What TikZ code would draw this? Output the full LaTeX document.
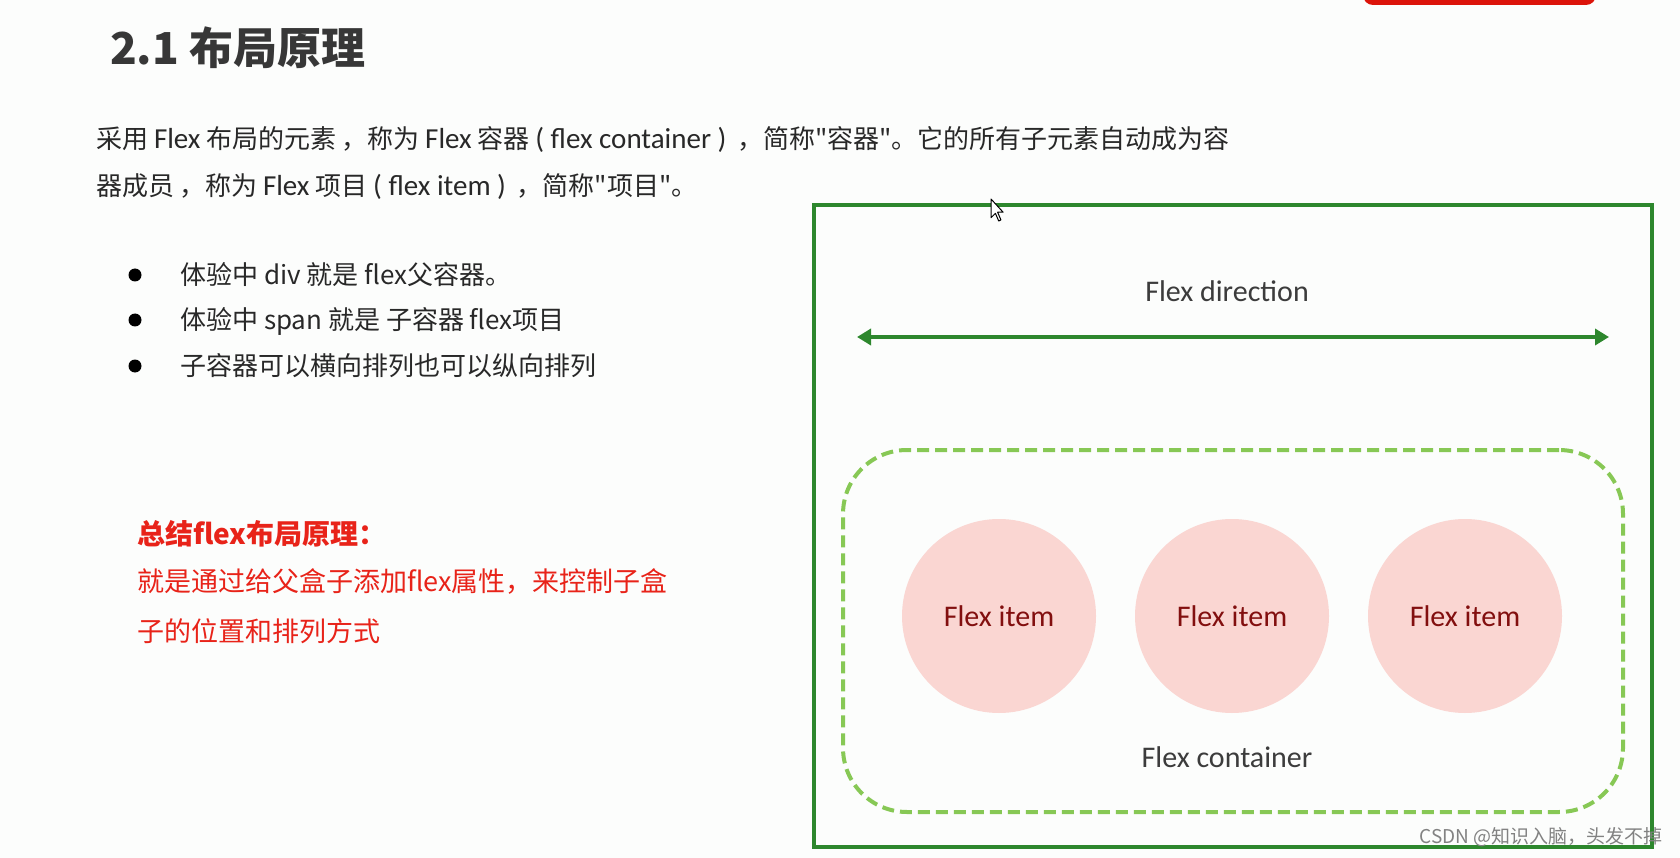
\documentclass[tikz,border=0pt]{standalone}
\usepackage{fontspec}
\setmainfont{Carlito}
\newfontfamily\cjk{Noto Sans CJK SC}
\newfontfamily\latf{Carlito}
\newcommand\lat[1]{{\latf\fontsize{29}{33}\selectfont #1}}
\newcommand\cm{\kern5pt，}
\usetikzlibrary{arrows.meta}
\definecolor{boxgreen}{RGB}{45,135,45}
\definecolor{dashgreen}{RGB}{135,200,85}
\definecolor{itemfill}{RGB}{250,214,210}
\definecolor{itemtext}{RGB}{130,15,15}
\definecolor{sumred}{RGB}{232,35,25}
\definecolor{txt}{RGB}{40,40,40}
\definecolor{lbltxt}{RGB}{60,60,60}
\definecolor{titlegray}{RGB}{55,55,55}
\definecolor{bg}{RGB}{252,253,252}
\definecolor{pill}{RGB}{220,20,10}
\definecolor{wmgray}{RGB}{130,130,130}
\tikzset{
  body/.style={anchor=west, text=txt, inner sep=0, font=\cjk\fontsize{26}{30}\selectfont},
  sumtext/.style={anchor=west, text=sumred, inner sep=0, font=\cjk\fontsize{27}{31}\selectfont},
  dot/.style={circle, fill=black, inner sep=0, minimum size=13},
  item/.style={circle, fill=itemfill, inner sep=0, minimum size=194, text=itemtext, font=\latf\fontsize{30}{34}\selectfont},
  lbl/.style={text=lbltxt, inner sep=0, font=\latf\fontsize{30}{34}\selectfont}
}
\begin{document}
\begin{tikzpicture}[x=1pt,y=-1pt]
\fill[bg] (0,0) rectangle (1680,858);
\useasboundingbox (0,0) rectangle (1680,858);
% top red tab
\fill[pill, rounded corners=10pt] (1363,-20) rectangle (1596,5);
% title
\node[anchor=west, text=titlegray, inner sep=0, font=\cjk\bfseries\fontsize{44}{50}\selectfont] (title) at (110,48) {2.1 布局原理};
% paragraph
\node[body] (p1) at (96,140) {采用 \lat{Flex} 布局的元素\cm 称为 \lat{Flex} 容器 \lat{( flex container )} \cm 简称"容器"。它的所有子元素自动成为容};
\node[body] (p2) at (96,187) {器成员\cm 称为 \lat{Flex} 项目 \lat{( flex item )} \cm 简称"项目"。};
% bullets
\node[dot] (d1) at (135,275) {};
\node[body] (b1) at (180,275) {体验中 div 就是 flex父容器。};
\node[dot] (d2) at (135,320) {};
\node[body] (b2) at (180,321) {体验中 span 就是 子容器 flex项目};
\node[dot] (d3) at (135,366) {};
\node[body] (b3) at (180,366) {子容器可以横向排列也可以纵向排列};
% summary
\node[sumtext, font=\cjk\bfseries\fontsize{28}{32}\selectfont] (s0) at (137,534) {总结flex布局原理：};
\node[sumtext] (s1) at (137,582) {就是通过给父盒子添加flex属性，来控制子盒};
\node[sumtext] (s2) at (137,631) {子的位置和排列方式};
% outer container
\node[draw=boxgreen, line width=4, minimum width=838, minimum height=642, inner sep=0] (outer) at (1233,526) {};
\node[lbl] (dir) at (1227,291) {Flex direction};
\coordinate (al) at (857,337);
\coordinate (ar) at (1609,337);
\draw[boxgreen, line width=4, {Triangle[length=14,width=16]}-{Triangle[length=14,width=16]}] (al) -- (ar);
% dashed flex container
\node[draw=dashgreen, line width=4, dash pattern=on 12pt off 6pt, rounded corners=64pt, minimum width=780, minimum height=362, inner sep=0] (cont) at (1233,631) {};
\node[item] (i1) at (999,616) {Flex item};
\node[item] (i2) at (1232,616) {Flex item};
\node[item] (i3) at (1465,616) {Flex item};
\node[lbl] (clbl) at (1227,757) {Flex container};
% mouse cursor
\draw[fill=white, draw=black, line width=1, line join=round, shift={(991,199)}, scale=1.1]
  (0,0) -- (0,17) -- (4,13) -- (7,20) -- (9,19) -- (6,12) -- (11,12) -- cycle;
% watermark
\node[anchor=east, text=wmgray, inner sep=0, font=\cjk\fontsize{19}{22}\selectfont] (wm) at (1663,837) {CSDN @知识入脑，头发不掉};
\end{tikzpicture}
\end{document}
